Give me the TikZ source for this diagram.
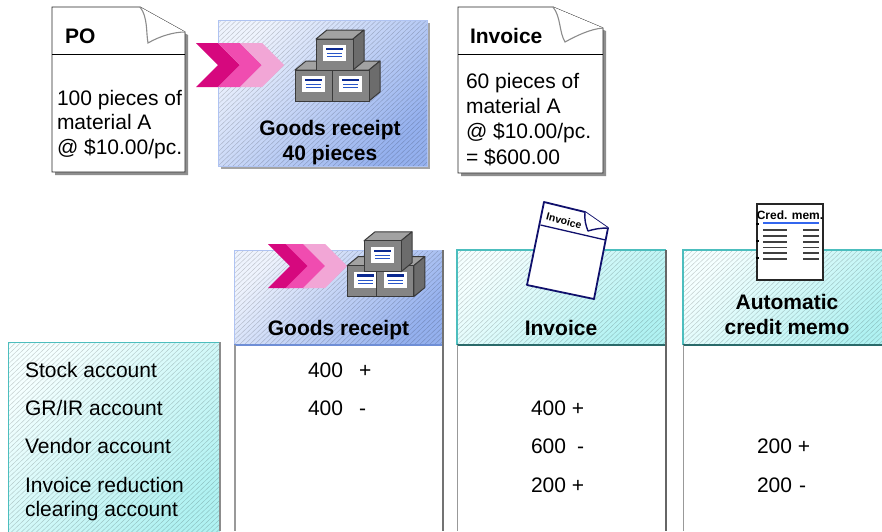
\documentclass[tikz,border=0pt]{standalone}
\usepackage{fontspec}
\setmainfont{Liberation Sans}
\definecolor{grA}{HTML}{EEF3FD}
\definecolor{grB}{HTML}{94B0EE}
\definecolor{cyA}{HTML}{F4FFFF}
\definecolor{cyB}{HTML}{B0F2F2}
\definecolor{grBorder}{HTML}{AFC3F2}
\definecolor{grBottom}{HTML}{6E8ED6}
\definecolor{cyBorder}{HTML}{4CBEBE}
\definecolor{cyBottom}{HTML}{2A6A6A}
\definecolor{chevA}{HTML}{D6087E}
\definecolor{chevB}{HTML}{F04CB0}
\definecolor{chevC}{HTML}{F2A6D6}
\definecolor{crFront}{HTML}{858585}
\definecolor{crTop}{HTML}{A2A2A2}
\definecolor{crSide}{HTML}{6C6C6C}
\definecolor{crLine}{HTML}{3A3A3A}
\definecolor{lblBar}{HTML}{0A2890}
\definecolor{lblLine}{HTML}{2855C8}
\definecolor{navyline}{HTML}{10106C}
\definecolor{memoblue}{HTML}{3366EE}
\definecolor{shadowgray}{HTML}{8E8E8E}
\tikzset{
  every node/.style={inner sep=0pt, outer sep=0pt},
  txt/.style={font=\fontsize{21}{25}\selectfont, anchor=base west},
  txtb/.style={font=\fontsize{21}{25}\selectfont\bfseries, anchor=base west},
  ctxb/.style={font=\fontsize{21}{25}\selectfont\bfseries, anchor=base},
  hatchline/.style={draw=black, line width=0.45pt, opacity=0.2},
  pagestyle/.style={fill=white, draw=black!85, line width=0.9pt, line join=miter},
  flapstyle/.style={fill=white, draw=black!45, line width=1.1pt},
  pics/crate/.style={code={
    \draw[fill=crTop, draw=crLine, line width=1pt, line join=round] (0,0) -- (11,-9) -- (48,-9) -- (37,0) -- cycle;
    \draw[fill=crSide, draw=crLine, line width=1pt, line join=round] (37,0) -- (48,-9) -- (48,22) -- (37,31) -- cycle;
    \draw[fill=crFront, draw=crLine, line width=1pt] (0,0) rectangle (37,31);
    \fill[white] (7,6) rectangle (30,22);
    \draw[lblBar, line width=2.4pt] (10,10) -- (27,10);
    \draw[lblLine, line width=0.9pt] (11,14.5) -- (26,14.5) (11,17.8) -- (26,17.8);
  }},
  pics/chev/.style={code={
    \fill[#1] (0,0) -- (22,0) -- (44,22) -- (22,44) -- (0,44) -- (22,22) -- cycle;
  }},
  pics/grsym/.style={code={
    \pic at (0,0) {chev=chevA};
    \pic at (22,0) {chev=chevB};
    \pic at (44,0) {chev=chevC};
    \pic at (99,27) {crate};
    \pic at (136,27) {crate};
    \pic at (120,-4) {crate};
  }},
}
\newcommand\myhatch[4]{%
  \begin{scope}
    \clip (#1,#2) rectangle (#3,#4);
    \foreach \i in {-330,-325,...,330} \draw[hatchline] ({#1+(\i)},#4) -- ++(400,-380);
  \end{scope}}
\begin{document}
\begin{tikzpicture}[x=1pt,y=-1pt]
\useasboundingbox (0,0) rectangle (882,531);
\clip (0,0) rectangle (882,531);
\fill[white] (0,0) rectangle (882,531);

% ---------- PO document ----------
\fill[shadowgray] (55,10) -- (143,10) -- (188,35) -- (188,175) -- (55,175) -- cycle;
\draw[pagestyle] (52,7) -- (140,7) -- (185,32) -- (185,172) -- (52,172) -- cycle;
\draw[flapstyle] (140,7) .. controls (148,17) and (146,33) .. (148,43) .. controls (160,36) and (174,32) .. (185,32);
\draw[black, line width=0.9pt] (52,54) -- (185,54);
\node[txtb] (poh) at (65,43) {PO};
\node[txt] (po1) at (57,105) {100 pieces of};
\node[txt] (po2) at (57,129.5) {material A};
\node[txt] (po3) at (57,154) {@ \$10.00/pc.};

% ---------- Goods receipt box (top) ----------
\fill[shadowgray!80] (221,23) rectangle (430,169);
\shade[top color=grA, bottom color=grB, shading angle=45] (218,20) rectangle (427,166);
\myhatch{218}{20}{427}{166}
\draw[grBorder, line width=0.8pt] (218,20) rectangle (427,166);
\pic at (196,43) {grsym};
\node[ctxb] (gr1) at (330,135) {Goods receipt};
\node[ctxb] (gr2) at (330,160) {40 pieces};

% ---------- Invoice document ----------
\fill[shadowgray] (461,10) -- (556,10) -- (606,31) -- (606,176) -- (461,176) -- cycle;
\draw[pagestyle] (458,7) -- (553,7) -- (603,28) -- (603,173) -- (458,173) -- cycle;
\draw[flapstyle] (553,7) .. controls (561,17) and (559,32) .. (565,42) .. controls (576,36) and (590,29) .. (603,28);
\draw[black, line width=0.9pt] (458,54) -- (603,54);
\node[txtb] (invh) at (470,43) {Invoice};
\node[txt] (inv1) at (466,88) {60 pieces of};
\node[txt] (inv2) at (466,113) {material A};
\node[txt] (inv3) at (466,138.5) {@ \$10.00/pc.};
\node[txt] (inv4) at (466,164) {= \$600.00};

% ---------- Accounts box ----------
\shade[top color=cyA, bottom color=cyB, shading angle=45] (8,342) rectangle (220,540);
\myhatch{8}{342}{220}{540}
\draw[cyBorder, line width=1pt] (8,540) -- (8,342) -- (220,342);
\draw[black!45, line width=1.5pt] (220,342) -- (220,531);
\node[txt] (acc1) at (25,377) {Stock account};
\node[txt] (acc2) at (25,415) {GR/IR account};
\node[txt] (acc3) at (25,453) {Vendor account};
\node[txt] (acc4) at (25,492) {Invoice reduction};
\node[txt] (acc5) at (25,516) {clearing account};

% ---------- Goods receipt column ----------
\shade[top color=grA, bottom color=grB, shading angle=45] (234,250) rectangle (443,345);
\myhatch{234}{250}{443}{345}
\draw[grBorder, line width=1pt] (234,345) -- (234,250) -- (443,250);
\draw[grBottom, line width=1.5pt] (234,345) -- (443,345);
\draw[black!40, line width=1.5pt] (235,345) -- (235,531);
\draw[black!55, line width=2pt] (443,250) -- (443,531);
\pic[scale=0.8] at (268,244) {grsym};
\node[ctxb] (grh) at (338.5,335) {Goods receipt};
\node[txt] (grv1) at (308,377) {400\hspace{16pt}+};
\node[txt] (grv2) at (308,415) {400\hspace{16pt}-};

% ---------- Invoice column ----------
\shade[top color=cyA, bottom color=cyB, shading angle=45] (457,250) rectangle (666,345);
\myhatch{457}{250}{666}{345}
\draw[cyBorder, line width=1.2pt] (457,345) -- (457,250) -- (666,250);
\draw[cyBottom, line width=1.5pt] (457,345) -- (666,345);
\draw[black!40, line width=1.5pt] (457.5,345) -- (457.5,531);
\draw[black!60, line width=2pt] (666,250) -- (666,531);
\node[ctxb] (invcol) at (561,335) {Invoice};
\node[txt] (iv1) at (531,415) {400 +};
\node[txt] (iv2) at (531,453) {600\hspace{11pt}-};
\node[txt] (iv3) at (531,492) {200 +};

% tilted invoice icon
\draw[fill=white, draw=navyline, line width=1.8pt, line join=round] (544,202) -- (585,212) -- (608,228) -- (594,299) -- (527,285) -- cycle;
\draw[fill=white, draw=navyline, line width=1.4pt, line join=round] (585,212) .. controls (584,219) and (586,226) .. (588,231) .. controls (594,229) and (601,228) .. (608,228);
\draw[navyline, line width=1.3pt] (540.5,225) -- (605.5,240);
\node[font=\fontsize{10.5}{12}\selectfont\bfseries, rotate=-15] (invicon) at (564,221) {Invoice};

% ---------- Credit memo column ----------
\shade[top color=cyA, bottom color=cyB, shading angle=45] (683,250) rectangle (895,345);
\myhatch{683}{250}{895}{345}
\draw[cyBorder, line width=1.2pt] (683,345) -- (683,250) -- (895,250);
\draw[cyBottom, line width=1.5pt] (683,345) -- (895,345);
\draw[black!40, line width=1.5pt] (683.5,345) -- (683.5,531);
\node[ctxb] (cm1) at (787,309) {Automatic};
\node[ctxb] (cm2) at (787,334) {credit memo};
\node[txt] (cv1) at (757,453) {200 +};
\node[txt] (cv2) at (757,492) {200\hspace{7pt}-};

% credit memo icon
\draw[fill=white, draw=black!85, line width=1.4pt] (757,204) rectangle (823,280);
\node[font=\fontsize{12}{13}\selectfont\bfseries, anchor=base] (cmicon) at (790,219) {Cred. mem.};
\draw[memoblue, line width=2pt] (763,223) -- (819,223);
\foreach \yy in {230,236,242,247.5,253,259} {
  \draw[black!75, line width=1.3pt] (763,\yy) -- (787,\yy) (803,\yy) -- (819,\yy);
}
\foreach \yy in {224,241,258} {
  \fill[black] (755.5,\yy-1.2) rectangle (758.5,\yy+1.2);
}
\end{tikzpicture}
\end{document}
